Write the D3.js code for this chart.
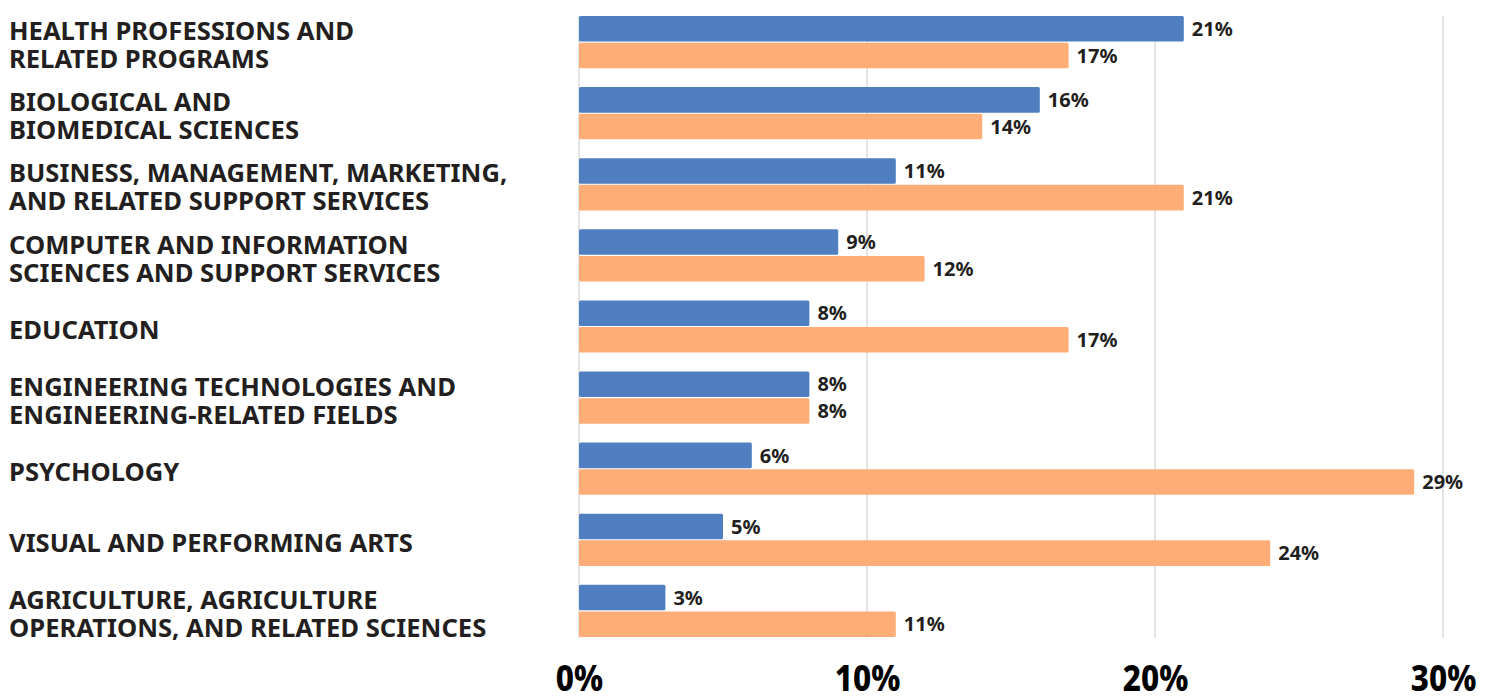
<!DOCTYPE html>
<html>
<head>
<meta charset="utf-8">
<script src="https://cdn.jsdelivr.net/npm/d3@7"></script>
<style>
  html, body { margin: 0; padding: 0; background: #fff; }
  svg { display: block; }
  .cat { font-family: "Noto Sans", sans-serif; font-weight: 700; font-size: 25.6px; fill: #231f20; }
  .val { font-family: "Noto Sans", sans-serif; font-weight: 700; font-size: 20px; fill: #231f20; }
  .tick text { font-family: "Noto Sans", sans-serif; font-weight: 800; font-size: 35px; fill: #000; }
</style>
</head>
<body>
<svg id="chart" width="1492" height="696"></svg>
<script>
// Field of study (two-line labels)
const categories = [
  ["HEALTH PROFESSIONS AND", "RELATED PROGRAMS"],
  ["BIOLOGICAL AND", "BIOMEDICAL SCIENCES"],
  ["BUSINESS, MANAGEMENT, MARKETING,", "AND RELATED SUPPORT SERVICES"],
  ["COMPUTER AND INFORMATION", "SCIENCES AND SUPPORT SERVICES"],
  ["EDUCATION"],
  ["ENGINEERING TECHNOLOGIES AND", "ENGINEERING-RELATED FIELDS"],
  ["PSYCHOLOGY"],
  ["VISUAL AND PERFORMING ARTS"],
  ["AGRICULTURE, AGRICULTURE", "OPERATIONS, AND RELATED SCIENCES"]
];
// Share (%) for each series
const series1 = [21, 16, 11, 9, 8, 8, 6, 5, 3];
const series2 = [17, 14, 21, 12, 17, 8, 29, 24, 11];
const tickValues = [0, 10, 20, 30];

const colors = ["#4f7fc0", "#ffad76"];

const svg = d3.select("#chart");
const plot = { left: 579, right: 1443, top: 16, bottom: 637 };

const x = d3.scaleLinear().domain([0, 30]).range([plot.left, plot.right]);
const y = d3.scaleBand()
  .domain(d3.range(categories.length))
  .range([plot.top, plot.bottom])
  .paddingInner(0.266)
  .paddingOuter(0);
const inner = d3.scaleBand()
  .domain([0, 1])
  .range([0, y.bandwidth()])
  .paddingInner(0.04);

// Vertical gridlines
svg.append("g")
  .selectAll("line")
  .data(tickValues)
  .join("line")
  .attr("x1", d => x(d)).attr("x2", d => x(d))
  .attr("y1", plot.top).attr("y2", plot.bottom + 1)
  .attr("stroke", "#c9c9c9")
  .attr("stroke-width", 1);

// Bars
const rows = categories.map((c, i) => ({ i, vals: [series1[i], series2[i]] }));
const groups = svg.append("g")
  .selectAll("g")
  .data(rows)
  .join("g")
  .attr("transform", d => `translate(0,${y(d.i)})`);

groups.selectAll("rect")
  .data(d => d.vals.map((v, k) => ({ v, k })))
  .join("rect")
  .attr("x", x(0))
  .attr("y", d => inner(d.k))
  .attr("width", d => x(d.v) - x(0))
  .attr("height", inner.bandwidth())
  .attr("rx", 1.5)
  .attr("fill", d => colors[d.k]);

groups.selectAll("text.val")
  .data(d => d.vals.map((v, k) => ({ v, k })))
  .join("text")
  .attr("class", "val")
  .attr("x", d => x(d.v) + 8)
  .attr("y", d => inner(d.k) + inner.bandwidth() / 2)
  .attr("dy", "0.36em")
  .text(d => d.v + "%");

// Category labels, vertically centred on each bar pair
const lineH = 28;
const labels = svg.append("g")
  .selectAll("text")
  .data(categories)
  .join("text")
  .attr("class", "cat")
  .attr("x", 9)
  .attr("y", (d, i) => y(i) + y.bandwidth() / 2 + 3 - (d.length - 1) * lineH / 2);
labels.selectAll("tspan")
  .data(d => d)
  .join("tspan")
  .attr("x", 9)
  .attr("dy", (d, j) => j === 0 ? "0.357em" : lineH)
  .text(d => d);

// Bottom axis labels
const axis = d3.axisBottom(x)
  .tickValues(tickValues)
  .tickFormat(d => d + "%")
  .tickSize(0)
  .tickPadding(0);
const ax = svg.append("g")
  .attr("transform", "translate(0,662)")
  .call(axis);
ax.select(".domain").remove();
ax.selectAll(".tick text")
  .attr("dy", 0)
  .attr("y", 0)
  .attr("transform", "translate(0,29) scale(0.9,1)");
</script>
</body>
</html>
